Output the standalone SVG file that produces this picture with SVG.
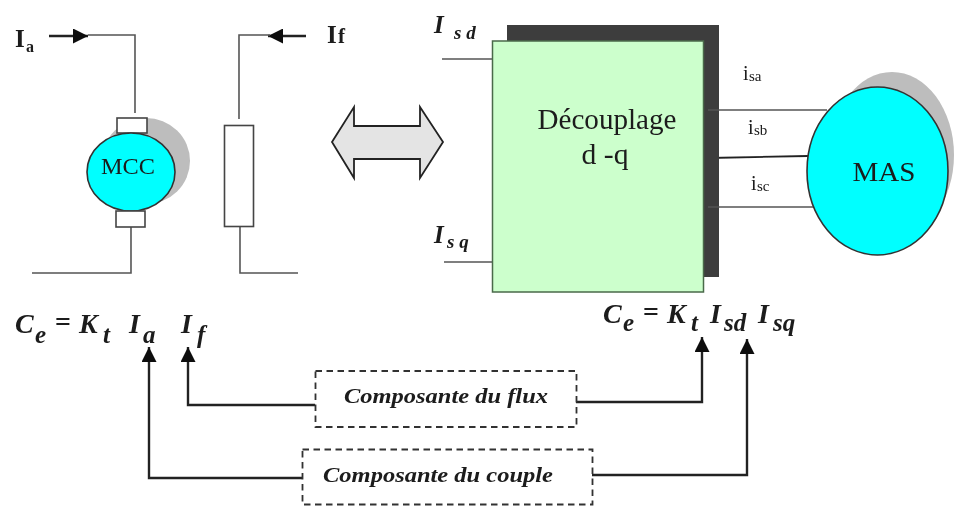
<svg xmlns="http://www.w3.org/2000/svg" width="954" height="507" viewBox="0 0 954 507">
<style>
.ln{fill:none;stroke:#555;stroke-width:1.6}
.dk{fill:none;stroke:#222;stroke-width:2.4}
.box{fill:#fff;stroke:#444;stroke-width:1.6}
.dash{fill:none;stroke:#333;stroke-width:1.8;stroke-dasharray:6.500 4.500}
.sh{fill:#bdbdbd}
.cy{fill:#00ffff;stroke:#333;stroke-width:1.6}
text{font-family:"Liberation Serif","Times New Roman",serif;fill:#1a1a1a}
.eq{font-weight:bold;font-style:italic;font-size:28px}
.sub{font-weight:bold;font-style:italic;font-size:25px}
.lab{font-weight:bold;font-style:italic;font-size:22px}
.b{font-weight:bold;font-size:25px}
.r{font-size:20px}
.rs{font-size:15px}
.soft{filter:url(#soft)}
</style>
<defs>
<filter id="soft" x="-5%" y="-5%" width="110%" height="110%"><feGaussianBlur stdDeviation="0.45"/></filter>
<marker id="ah" markerUnits="userSpaceOnUse" markerWidth="16" markerHeight="15" refX="15" refY="7.5" orient="auto"><path d="M0 0L15 7.5L0 15Z" fill="#111"/></marker>
</defs>
<rect width="954" height="507" fill="#fff"/>
<g id="connectors" class="soft">
<path class="dk" d="M49 36H88" marker-end="url(#ah)"/>
<path class="ln" d="M88 35H135V113"/>
<path class="dk" d="M306 36H268" marker-end="url(#ah)"/>
<path class="ln" d="M270 35H239V119"/>
<path class="ln" d="M131 227V273H32"/>
<path class="ln" d="M240 227V273H298"/>
<path class="ln" d="M442 59H492"/>
<path class="ln" d="M444 262H492"/>
<path class="dk" style="stroke-width:1.8" d="M708 158L808 156"/>
<path class="dk" d="M315 405H188V347" marker-end="url(#ah)"/>
<path class="dk" d="M302 478H149V347" marker-end="url(#ah)"/>
<path class="dk" d="M576 402H702V337" marker-end="url(#ah)"/>
<path class="dk" d="M592 475H747V339" marker-end="url(#ah)"/>
</g>
<g id="label-ia" class="soft"><text class="b" x="15" y="47">I</text><text x="26" y="52" style="font-size:16px;font-weight:bold">a</text></g>
<g id="label-if" class="soft"><text class="b" x="327" y="43">I</text><text x="338" y="43" style="font-size:21px;font-weight:bold">f</text></g>
<g id="mcc" class="soft">
<ellipse class="sh" cx="146" cy="161" rx="44" ry="43"/>
<rect class="box" x="117" y="118" width="30" height="15"/>
<ellipse class="cy" cx="131" cy="172" rx="44" ry="39"/>
<rect class="box" x="116" y="211" width="29" height="16"/>
<text x="128" y="174" text-anchor="middle" font-size="23" textLength="54" lengthAdjust="spacingAndGlyphs">MCC</text>
</g>
<g id="inductor" class="soft"><rect class="box" x="224.500" y="125.500" width="29" height="101"/></g>
<g id="double-arrow" class="soft"><path d="M332 142L354 107V126H420V107L443 142L420 178V159H354V178Z" fill="#e4e4e4" stroke="#222" stroke-width="1.800"/></g>
<g id="decouplage" class="soft">
<rect x="507" y="25" width="212" height="252" fill="#3c3c3c"/>
<rect x="492.500" y="41" width="211" height="251" fill="#ccffcc" stroke="#4a6a4a" stroke-width="1.500"/>
<text x="607" y="129" text-anchor="middle" font-size="29" textLength="139" lengthAdjust="spacingAndGlyphs">Découplage</text>
<text x="605" y="164" text-anchor="middle" font-size="29" textLength="47" lengthAdjust="spacingAndGlyphs">d -q</text>
</g>
<g id="mas" class="soft">
<path class="ln" d="M708 110H827"/>
<path class="ln" d="M708 207H817"/>
<ellipse class="sh" cx="892" cy="155" rx="62" ry="83"/>
<ellipse class="cy" cx="877.500" cy="171" rx="70.500" ry="84"/>
<text x="884" y="181" text-anchor="middle" font-size="27" textLength="63" lengthAdjust="spacingAndGlyphs">MAS</text>
</g>
<g id="label-isd" class="soft"><text x="434" y="33" style="font-size:25px;font-weight:bold;font-style:italic">I</text><text x="454" y="39" style="font-size:19px;font-weight:bold;font-style:italic">s d</text></g>
<g id="label-isq" class="soft"><text x="434" y="243" style="font-size:25px;font-weight:bold;font-style:italic">I</text><text x="447" y="248" style="font-size:19px;font-weight:bold;font-style:italic">s q</text></g>
<g id="label-isa" class="soft"><text class="r" x="743" y="80">i</text><text class="rs" x="749" y="81">sa</text></g>
<g id="label-isb" class="soft"><text class="r" x="748" y="134">i</text><text class="rs" x="754" y="135">sb</text></g>
<g id="label-isc" class="soft"><text class="r" x="751" y="190">i</text><text class="rs" x="757" y="191">sc</text></g>
<g id="eq-mcc" class="soft">
<text class="eq" x="15" y="333">C</text><text class="sub" x="35" y="343">e</text>
<text class="eq" x="55" y="331" style="font-style:normal">=</text>
<text class="eq" x="79" y="333">K</text><text class="sub" x="103" y="343">t</text>
<text class="eq" x="129" y="333">I</text><text class="sub" x="143" y="343">a</text>
<text class="eq" x="181" y="333">I</text><text class="sub" x="197" y="343">f</text>
</g>
<g id="eq-mas" class="soft">
<text class="eq" x="603" y="323">C</text><text class="sub" x="623" y="331">e</text>
<text class="eq" x="643" y="321" style="font-style:normal">=</text>
<text class="eq" x="667" y="323">K</text><text class="sub" x="691" y="331">t</text>
<text class="eq" x="710" y="323">I</text><text class="sub" x="724" y="331">sd</text>
<text class="eq" x="758" y="323">I</text><text class="sub" x="773" y="331">sq</text>
</g>
<g id="composante-flux" class="soft">
<rect class="dash" x="315.500" y="371" width="261" height="56"/>
<text class="lab" x="344" y="403" textLength="204" lengthAdjust="spacingAndGlyphs">Composante du flux</text>
</g>
<g id="composante-couple" class="soft">
<rect class="dash" x="302.500" y="449.500" width="290" height="55"/>
<text class="lab" x="323" y="482" textLength="230" lengthAdjust="spacingAndGlyphs">Composante du couple</text>
</g>
</svg>
